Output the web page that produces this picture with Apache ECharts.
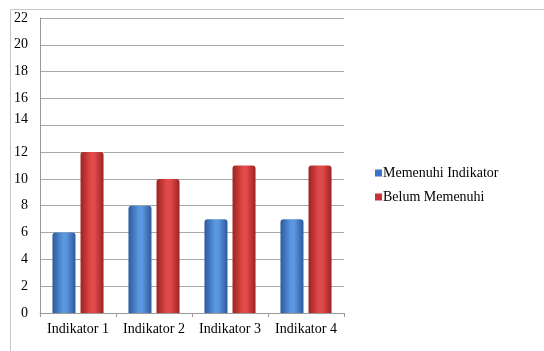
<!DOCTYPE html>
<html><head><meta charset="utf-8">
<script src="https://cdn.jsdelivr.net/npm/echarts@6/dist/echarts.min.js"></script>
<style>html,body{margin:0;padding:0;background:#fff}#c{width:544px;height:351px}</style>
</head><body><div id="c"></div>
<script>
const categories = ['Indikator 1','Indikator 2','Indikator 3','Indikator 4'];
const memenuhi = [6, 8, 7, 7];
const belum = [12, 10, 11, 11];
const seriesNames = ['Memenuhi Indikator','Belum Memenuhi'];

function grad(edge, mid){
  return new echarts.graphic.LinearGradient(0,0,1,0,[
    {offset:0,color:edge},{offset:0.45,color:mid},{offset:0.6,color:mid},{offset:1,color:edge}]);
}
const chart = echarts.init(document.getElementById('c'));
const font = 'Liberation Serif';
chart.setOption({
  animation:false,
  textStyle:{fontFamily:font},
  graphic:[
    {type:'line',shape:{x1:10,y1:9.5,x2:544,y2:9.5},style:{stroke:'#c8c8c8',lineWidth:1}},
    {type:'line',shape:{x1:10.5,y1:9,x2:10.5,y2:351},style:{stroke:'#c8c8c8',lineWidth:1}}
  ],
  grid:{left:40,right:200,top:18,bottom:38},
  legend:{
    orient:'vertical',left:370,top:161,itemWidth:7,itemHeight:7,itemGap:10,
    textStyle:{fontFamily:font,fontSize:14,color:'#000',padding:[0,0,0,-4]},
    data:[{name:seriesNames[0],icon:'rect',itemStyle:{color:'#3a74c2'}},{name:seriesNames[1],icon:'rect',itemStyle:{color:'#c83232'}}]
  },
  xAxis:{type:'category',data:categories,
    axisLine:{lineStyle:{color:'#999'}},
    axisTick:{show:true,lineStyle:{color:'#999'},length:4},
    axisLabel:{color:'#000',fontSize:14,fontFamily:font,margin:9,interval:0}},
  yAxis:{type:'value',min:0,max:22,interval:2,
    axisLine:{show:true,lineStyle:{color:'#999'}},
    axisTick:{show:false},
    splitLine:{lineStyle:{color:'#a8a8a8'}},
    axisLabel:{color:'#000',fontSize:14,fontFamily:font,margin:12,
      formatter:function(v){return v===14?'{up|14}':String(v);},
      rich:{up:{fontSize:14,fontFamily:font,color:'#000',padding:[0,0,12,0]}}}},
  series:[
    {name:seriesNames[0],type:'bar',data:memenuhi,barWidth:23,barGap:'22%',
      itemStyle:{color:grad('#2c5a9e','#5a97de'),borderRadius:[3,3,0,0]}},
    {name:seriesNames[1],type:'bar',data:belum,barWidth:23,
      itemStyle:{color:grad('#9e2222','#e24a4a'),borderRadius:[3,3,0,0]}}
  ]
});
</script></body></html>
